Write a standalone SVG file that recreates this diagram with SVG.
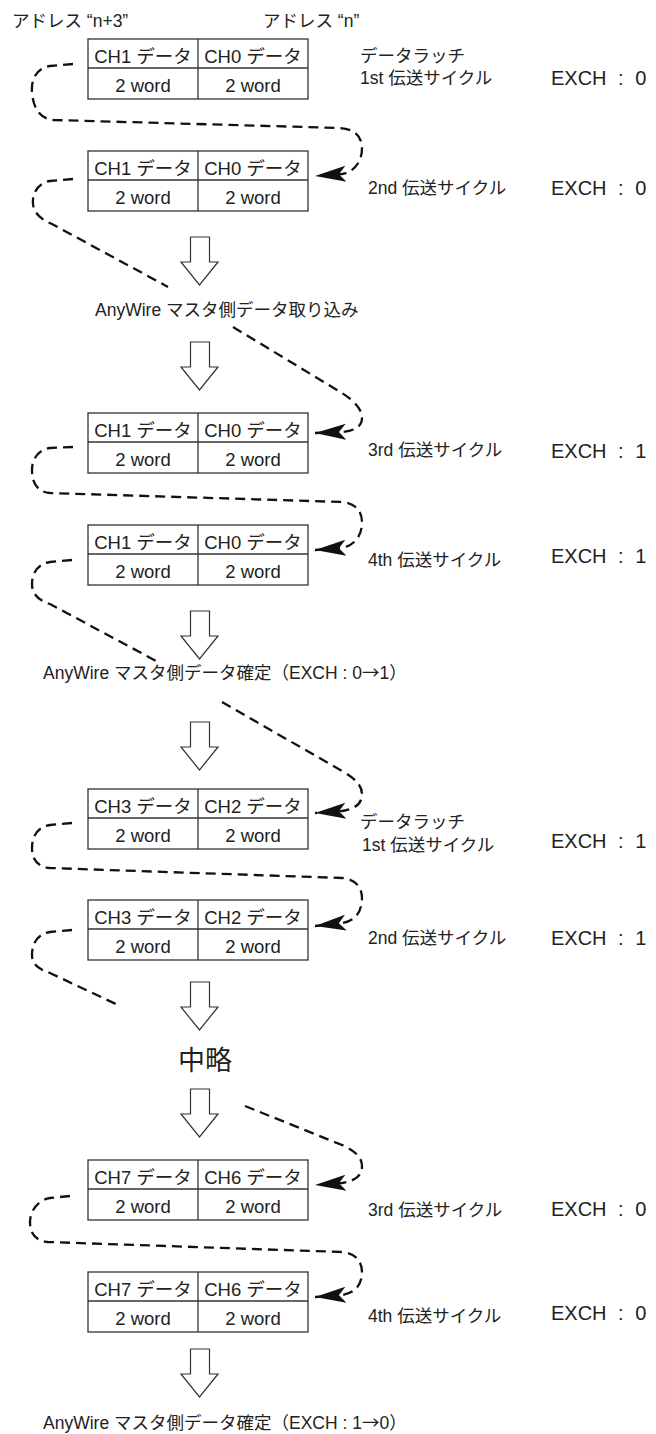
<svg xmlns="http://www.w3.org/2000/svg" width="656" height="1434" viewBox="0 0 656 1434">
<style>
text{font-family:'Liberation Sans','Noto Sans CJK JP',sans-serif;fill:#222}
.cell{fill:#fff;stroke:#333;stroke-width:1.3}
.tl{stroke:#333;stroke-width:1.3}
.ct{font-size:18.5px;text-anchor:middle}
.lb{font-size:17.5px}
.ex{font-size:20px;word-spacing:6px}
.ar{font-family:'Noto Sans CJK JP',sans-serif}
.bg{fill:#fff;stroke:#333;stroke-width:1.2}
.dash{fill:none;stroke:#111;stroke-width:2.3;stroke-dasharray:10 6}
</style>
<defs>
<marker id="ah" markerUnits="userSpaceOnUse" markerWidth="34" markerHeight="20" viewBox="0 0 34 20" refX="31" refY="10" orient="auto"><path d="M31,10 L0,2 L7,10 L0,18 Z" fill="#111"/></marker>
<g id="tbl"><rect class="cell" x="88" y="0" width="220" height="60"/><line class="tl" x1="88" y1="29" x2="308" y2="29"/><line class="tl" x1="198" y1="0" x2="198" y2="60"/></g>
<path id="barrow" class="bg" d="M190.5,0 L209.5,0 L209.5,25 L218,25 L199.5,48 L181,25 L190.5,25 Z"/>
</defs>
<g id="headers">
<text class="lb" x="12" y="27">アドレス “n+3”</text>
<text class="lb" x="263" y="27">アドレス “n”</text>
</g>
<g id="table1"><use href="#tbl" y="39"/><text class="ct" x="143" y="62.5">CH1 データ</text><text class="ct" x="253" y="62.5">CH0 データ</text><text class="ct" x="143" y="91.5">2 word</text><text class="ct" x="253" y="91.5">2 word</text></g>
<g id="table2"><use href="#tbl" y="151"/><text class="ct" x="143" y="174.5">CH1 データ</text><text class="ct" x="253" y="174.5">CH0 データ</text><text class="ct" x="143" y="203.5">2 word</text><text class="ct" x="253" y="203.5">2 word</text></g>
<g id="table3"><use href="#tbl" y="413"/><text class="ct" x="143" y="436.5">CH1 データ</text><text class="ct" x="253" y="436.5">CH0 データ</text><text class="ct" x="143" y="465.5">2 word</text><text class="ct" x="253" y="465.5">2 word</text></g>
<g id="table4"><use href="#tbl" y="525"/><text class="ct" x="143" y="548.5">CH1 データ</text><text class="ct" x="253" y="548.5">CH0 データ</text><text class="ct" x="143" y="577.5">2 word</text><text class="ct" x="253" y="577.5">2 word</text></g>
<g id="table5"><use href="#tbl" y="789"/><text class="ct" x="143" y="812.5">CH3 データ</text><text class="ct" x="253" y="812.5">CH2 データ</text><text class="ct" x="143" y="841.5">2 word</text><text class="ct" x="253" y="841.5">2 word</text></g>
<g id="table6"><use href="#tbl" y="900"/><text class="ct" x="143" y="923.5">CH3 データ</text><text class="ct" x="253" y="923.5">CH2 データ</text><text class="ct" x="143" y="952.5">2 word</text><text class="ct" x="253" y="952.5">2 word</text></g>
<g id="table7"><use href="#tbl" y="1160"/><text class="ct" x="143" y="1183.5">CH7 データ</text><text class="ct" x="253" y="1183.5">CH6 データ</text><text class="ct" x="143" y="1212.5">2 word</text><text class="ct" x="253" y="1212.5">2 word</text></g>
<g id="table8"><use href="#tbl" y="1272"/><text class="ct" x="143" y="1295.5">CH7 データ</text><text class="ct" x="253" y="1295.5">CH6 データ</text><text class="ct" x="143" y="1324.5">2 word</text><text class="ct" x="253" y="1324.5">2 word</text></g>
<g id="flow-arrows">
<use href="#barrow" y="237"/>
<use href="#barrow" y="342"/>
<use href="#barrow" y="611"/>
<use href="#barrow" y="722"/>
<use href="#barrow" y="982"/>
<use href="#barrow" y="1089"/>
<use href="#barrow" y="1349"/>
</g>
<g id="cycle-labels">
<text class="lb" x="360" y="62">データラッチ</text>
<text class="lb" x="360" y="84">1st 伝送サイクル</text>
<text class="ex" x="551" y="85">EXCH : 0</text>
<text class="lb" x="368" y="194">2nd 伝送サイクル</text>
<text class="ex" x="551" y="195">EXCH : 0</text>
<text class="lb" x="368" y="456">3rd 伝送サイクル</text>
<text class="ex" x="551" y="458">EXCH : 1</text>
<text class="lb" x="368" y="566">4th 伝送サイクル</text>
<text class="ex" x="551" y="563">EXCH : 1</text>
<text class="lb" x="360" y="828">データラッチ</text>
<text class="lb" x="362" y="851">1st 伝送サイクル</text>
<text class="ex" x="551" y="848">EXCH : 1</text>
<text class="lb" x="368" y="944">2nd 伝送サイクル</text>
<text class="ex" x="551" y="945">EXCH : 1</text>
<text class="lb" x="368" y="1216">3rd 伝送サイクル</text>
<text class="ex" x="551" y="1216">EXCH : 0</text>
<text class="lb" x="368" y="1322">4th 伝送サイクル</text>
<text class="ex" x="551" y="1320">EXCH : 0</text>
</g>
<g id="step-labels">
<text class="lb" x="95" y="316">AnyWire マスタ側データ取り込み</text>
<text class="lb" x="43" y="679">AnyWire マスタ側データ確定（EXCH : 0<tspan class="ar">→</tspan>1）</text>
<text x="205" y="1070" style="font-size:27px;text-anchor:middle">中略</text>
<text class="lb" x="43" y="1429">AnyWire マスタ側データ確定（EXCH : 1<tspan class="ar">→</tspan>0）</text>
</g>
<g id="connectors">
<path class="dash" marker-end="url(#ah)" d="M73,64 L50,66 C36,68 31,80 32,92 C33,108 40,119 54,120 L340,128 C355,129 362,137 362,148 C362,162 354,172 342,174 L315,176"/>
<path class="dash" d="M73,179 L50,181 C38,183 32,193 33,204 C34,214 42,220 52,224 L168,287"/>
<path class="dash" marker-end="url(#ah)" d="M233,327 L342,393 C356,402 362,410 362,418 C362,427 354,431 342,432 L315,433"/>
<path class="dash" marker-end="url(#ah)" d="M73,447 L50,448 C37,450 32,460 32,470 C32,484 38,492 50,493 L342,502 C356,503 362,512 362,522 C362,536 355,545 342,548 L315,550"/>
<path class="dash" d="M72,560 L50,562 C37,564 32,574 32,584 C32,594 38,600 50,604 L158,662"/>
<path class="dash" marker-end="url(#ah)" d="M222,702 L342,771 C356,779 362,786 362,794 C362,804 355,809 342,811 L315,813"/>
<path class="dash" marker-end="url(#ah)" d="M72,823 L50,825 C37,827 32,837 32,848 C32,860 38,867 50,868 L342,878 C356,879 362,888 362,898 C362,912 355,921 342,923 L315,926"/>
<path class="dash" d="M72,930 L50,932 C37,934 32,944 32,955 C32,964 38,969 50,973 L118,1005"/>
<path class="dash" marker-end="url(#ah)" d="M245,1106 L342,1145 C356,1151 362,1158 362,1166 C362,1176 355,1181 342,1183 L315,1185"/>
<path class="dash" marker-end="url(#ah)" d="M70,1196 L50,1198 C37,1200 30,1212 30,1222 C30,1234 36,1241 48,1242 L342,1252 C356,1253 362,1262 362,1272 C362,1285 355,1293 342,1295 L315,1297"/>
</g>
</svg>
